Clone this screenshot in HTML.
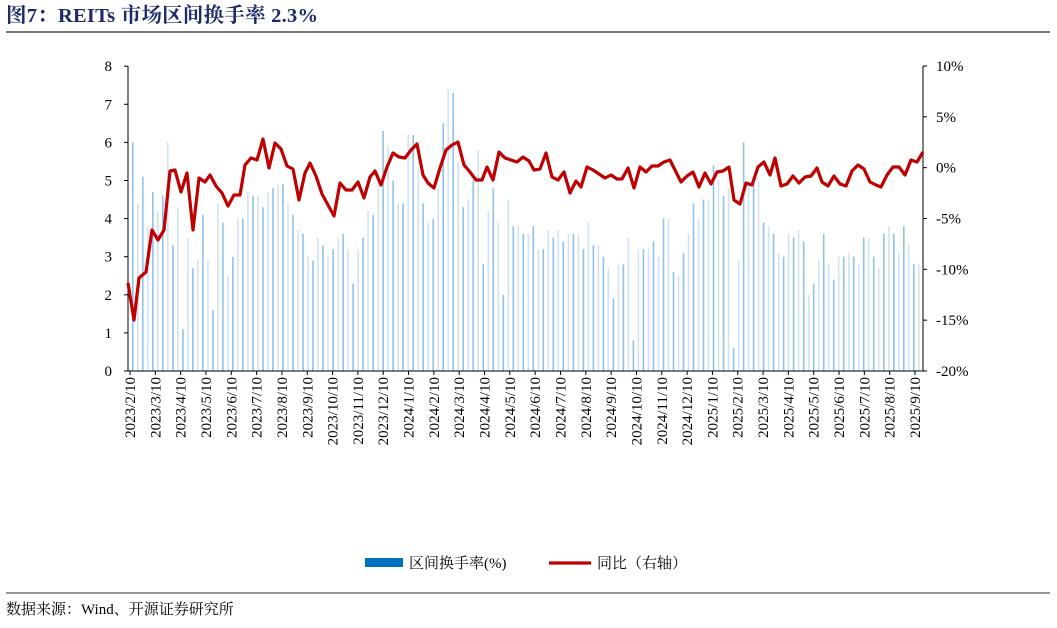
<!DOCTYPE html>
<html><head><meta charset="utf-8"><style>
body{margin:0;background:#fff;width:1057px;height:623px;overflow:hidden;font-family:"Liberation Serif","Noto Serif CJK SC",serif;}
</style></head><body>
<svg id="s" width="1057" height="623" xmlns="http://www.w3.org/2000/svg" font-family="Liberation Serif, Noto Serif CJK SC, serif">
<text x="6" y="22" font-size="20.5" font-weight="bold" fill="#1f2a6b" textLength="312">图7：REITs 市场区间换手率 2.3%</text>
<line x1="6" y1="32" x2="1050" y2="32" stroke="#777" stroke-width="2"/>
<g id="bars"></g>
<g id="axes" stroke="#000" stroke-width="1"></g>
<g id="labels" font-size="15" fill="#000"></g>
<polyline id="ln" fill="none" stroke="#c00000" stroke-width="3.2" stroke-linejoin="round"/>
<rect x="365" y="558" width="38" height="9" fill="#0070c0"/>
<text x="409" y="568" font-size="15">区间换手率(%)</text>
<line x1="549" y1="563" x2="591" y2="563" stroke="#c00000" stroke-width="3.2"/>
<text x="597" y="568" font-size="15">同比（右轴）</text>
<line x1="6" y1="593" x2="1050" y2="593" stroke="#333" stroke-width="1"/>
<text x="6" y="614" font-size="15">数据来源：Wind、开源证券研究所</text>
</svg>
<script>
var NS="http://www.w3.org/2000/svg";
function el(p,t,a,txt){var e=document.createElementNS(NS,t);for(var k in a)e.setAttribute(k,a[k]);if(txt)e.textContent=txt;p.appendChild(e);return e;}
var bars=[6.0,4.4,5.1,3.8,4.7,4.2,4.6,6.0,3.3,4.3,1.1,3.5,2.7,2.9,4.1,2.9,1.6,4.4,3.9,2.5,3.0,4.0,4.0,4.7,4.6,4.6,4.3,4.7,4.8,4.9,4.9,4.4,4.1,3.7,3.6,3.0,2.9,3.5,3.3,3.0,3.2,3.5,3.6,3.2,2.3,3.2,3.5,4.2,4.1,5.2,6.3,5.9,5.0,4.4,4.4,6.2,6.2,5.3,4.4,3.9,4.0,4.8,6.5,7.4,7.3,5.5,4.3,4.5,5.0,5.8,2.8,4.2,4.8,3.9,2.0,4.5,3.8,3.8,3.6,3.6,3.8,3.2,3.2,3.7,3.5,3.7,3.4,3.6,3.6,3.6,3.2,3.9,3.3,3.3,3.0,2.7,1.9,2.8,2.8,3.5,0.8,3.2,3.2,3.2,3.4,3.0,4.0,4.0,2.6,2.5,3.1,3.6,4.4,4.0,4.5,4.5,5.4,5.0,4.6,4.8,0.6,2.9,6.0,5.0,5.0,5.0,3.9,3.8,3.6,3.1,3.0,3.6,3.5,3.7,3.4,2.0,2.3,2.9,3.6,2.8,2.4,3.0,3.0,3.1,3.0,2.8,3.5,3.5,3.0,2.7,3.6,3.8,3.6,3.1,3.8,3.3,2.8,2.8];
var bg=document.getElementById("bars");
for(var i=0;i<bars.length;i++){var x=132+i*(918-132)/(bars.length-1);var h=bars[i]*38.1;
el(bg,"rect",{x:x.toFixed(1),y:(371-h).toFixed(1),width:1.6,height:h.toFixed(1),fill:i%2?"#cfe3f4":"#93c0e6"});}
var ax=document.getElementById("axes");
el(ax,"line",{x1:128,y1:66,x2:128,y2:371});
el(ax,"line",{x1:128,y1:371,x2:923,y2:371});
el(ax,"line",{x1:923,y1:66,x2:923,y2:371});
var lb=document.getElementById("labels");
for(var v=0;v<=8;v++){var y=371-v*38.1;el(ax,"line",{x1:124,y1:y,x2:128,y2:y});el(lb,"text",{x:112,y:y+5,"text-anchor":"end"},""+v);}
var pl=["10%","5%","0%","-5%","-10%","-15%","-20%"];
for(var j=0;j<7;j++){var y=66+j*50.83;el(ax,"line",{x1:923,y1:y,x2:927,y2:y});el(lb,"text",{x:936,y:y+5},pl[j]);}
var m=2,yr=2023;
for(var k=0;k<32;k++){var x=130+k*(915-130)/31;el(ax,"line",{x1:x,y1:371,x2:x,y2:375});
el(lb,"text",{x:0,y:0,"text-anchor":"end",transform:"translate("+(x+5)+",377) rotate(-90)"},yr+"/"+m+"/10");m++;if(m>12){m=1;yr++;}}
var pts="128,283 134,320 139,278 146,272 152,230 158,240 164,230 170,171 175,170 181,192 187,173 193,230 199,178 205,182 210,175 216,186 222,193 228,206 234,195 240,195 245,165 251,158 257,160 263,139 269,168 275,143 281,149 287,166 293,169 299,200 305,173 310,163 316,176 322,194 328,205 334,216 340,183 346,190 352,190 358,182 364,198 370,177 375,171 381,185 387,167 393,153 399,157 405,158 411,150 417,144 423,175 428,183 434,188 440,168 446,150 452,145 458,142 464,165 470,172 476,180 482,180 487,167 493,180 499,152 505,158 511,160 517,162 523,157 529,161 534,170 540,169 546,153 552,177 558,180 564,172 570,193 576,181 581,187 587,167 593,170 599,174 605,178 611,175 617,179 622,179 628,168 634,188 640,167 646,172 652,166 658,166 664,162 670,160 675,170 681,182 687,176 693,172 699,187 705,173 711,184 717,172 723,171 729,167 734,200 740,204 746,183 752,185 758,167 764,162 770,175 775,158 781,186 787,184 793,176 799,183 805,177 811,176 817,168 822,182 828,186 834,176 840,184 846,186 852,171 858,165 864,169 870,182 876,185 881,187 887,175 893,167 899,167 905,175 911,160 917,162 923,152";
document.getElementById("ln").setAttribute("points",pts);
</script>
</body></html>
